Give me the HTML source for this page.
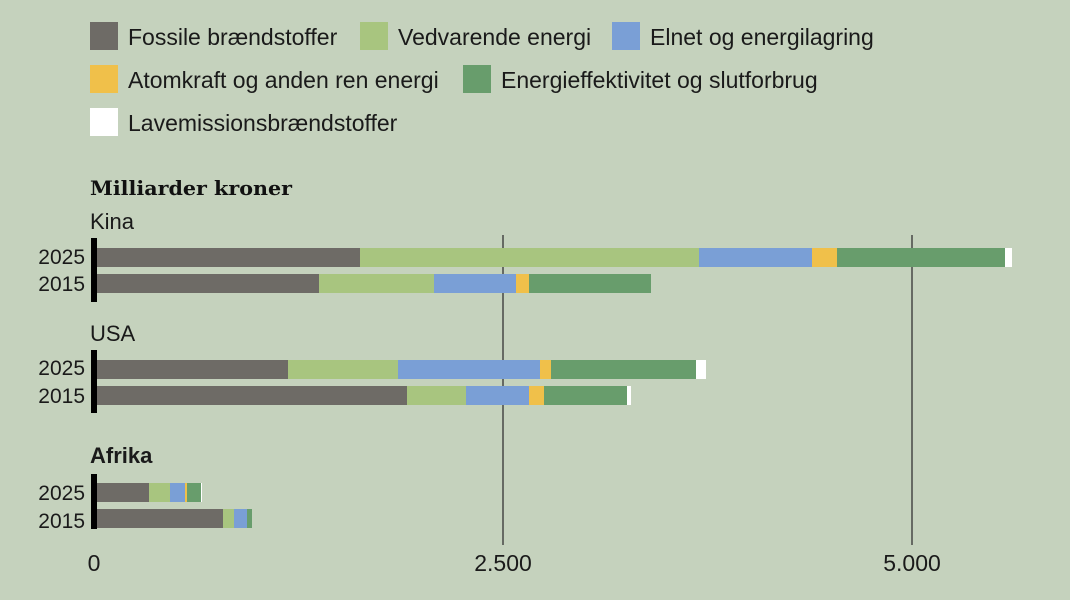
<!DOCTYPE html>
<html><head><meta charset="utf-8"><style>
html,body{margin:0;padding:0;background:#c5d2bd;}
svg{display:block;font-family:"Liberation Sans",sans-serif;}
</style></head><body>
<svg width="1070" height="600" viewBox="0 0 1070 600">
<rect width="1070" height="600" fill="#c5d2bd"/>
<g font-size="23" fill="#1a1a1a">
<rect x="90" y="22" width="28" height="28" fill="#6e6b66"/><text x="128" y="45">Fossile brændstoffer</text>
<rect x="360" y="22" width="28" height="28" fill="#a8c57f"/><text x="398" y="45">Vedvarende energi</text>
<rect x="612" y="22" width="28" height="28" fill="#7a9fd6"/><text x="650" y="45">Elnet og energilagring</text>
<rect x="90" y="65" width="28" height="28" fill="#f0c04a"/><text x="128" y="88">Atomkraft og anden ren energi</text>
<rect x="463" y="65" width="28" height="28" fill="#689d6c"/><text x="501" y="88">Energieffektivitet og slutforbrug</text>
<rect x="90" y="108" width="28" height="28" fill="#ffffff"/><text x="128" y="131">Lavemissionsbrændstoffer</text>
</g>
<text x="90" y="195" font-family="DejaVu Serif,serif" font-weight="bold" font-size="20" fill="#111" textLength="202" lengthAdjust="spacingAndGlyphs">Milliarder kroner</text>
<line x1="503" y1="235" x2="503" y2="545" stroke="#333" stroke-width="1.3"/>
<line x1="912" y1="235" x2="912" y2="545" stroke="#333" stroke-width="1.3"/>
<g font-size="21" fill="#1a1a1a">
<text x="90" y="229" font-size="22">Kina</text>
<text x="90" y="341" font-size="22">USA</text>
<text x="90" y="463" font-size="22" font-weight="bold">Afrika</text>
<g text-anchor="end">
<text x="85" y="264">2025</text><text x="85" y="291">2015</text>
<text x="85" y="375">2025</text><text x="85" y="403">2015</text>
<text x="85" y="500">2025</text><text x="85" y="528">2015</text>
</g>
<g text-anchor="middle" font-size="23">
<text x="94" y="571">0</text><text x="503" y="571">2.500</text><text x="912" y="571">5.000</text>
</g>
</g>
<rect x="91" y="238" width="6" height="64" fill="#000"/>
<rect x="91" y="350" width="6" height="63" fill="#000"/>
<rect x="91" y="474" width="6" height="55" fill="#000"/>
<g>
<rect x="97" y="248" width="263" height="19" fill="#6e6b66"/><rect x="360" y="248" width="339" height="19" fill="#a8c57f"/><rect x="699" y="248" width="113" height="19" fill="#7a9fd6"/><rect x="812" y="248" width="25" height="19" fill="#f0c04a"/><rect x="837" y="248" width="168" height="19" fill="#689d6c"/><rect x="1005" y="248" width="7" height="19" fill="#fff"/>
<rect x="97" y="274" width="222" height="19" fill="#6e6b66"/><rect x="319" y="274" width="115" height="19" fill="#a8c57f"/><rect x="434" y="274" width="82" height="19" fill="#7a9fd6"/><rect x="516" y="274" width="13" height="19" fill="#f0c04a"/><rect x="529" y="274" width="122" height="19" fill="#689d6c"/>
<rect x="97" y="360" width="191" height="19" fill="#6e6b66"/><rect x="288" y="360" width="110" height="19" fill="#a8c57f"/><rect x="398" y="360" width="142" height="19" fill="#7a9fd6"/><rect x="540" y="360" width="11" height="19" fill="#f0c04a"/><rect x="551" y="360" width="145" height="19" fill="#689d6c"/><rect x="696" y="360" width="10" height="19" fill="#fff"/>
<rect x="97" y="386" width="310" height="19" fill="#6e6b66"/><rect x="407" y="386" width="59" height="19" fill="#a8c57f"/><rect x="466" y="386" width="63" height="19" fill="#7a9fd6"/><rect x="529" y="386" width="15" height="19" fill="#f0c04a"/><rect x="544" y="386" width="83" height="19" fill="#689d6c"/><rect x="627" y="386" width="4" height="19" fill="#fff"/>
<rect x="97" y="483" width="52" height="19" fill="#6e6b66"/><rect x="149" y="483" width="21" height="19" fill="#a8c57f"/><rect x="170" y="483" width="15" height="19" fill="#7a9fd6"/><rect x="185" y="483" width="2" height="19" fill="#f0c04a"/><rect x="187" y="483" width="14" height="19" fill="#689d6c"/><rect x="201" y="483" width="1" height="19" fill="#fff"/>
<rect x="97" y="509" width="126" height="19" fill="#6e6b66"/><rect x="223" y="509" width="11" height="19" fill="#a8c57f"/><rect x="234" y="509" width="13" height="19" fill="#7a9fd6"/><rect x="247" y="509" width="5" height="19" fill="#689d6c"/>
</g>
</svg>
</body></html>
